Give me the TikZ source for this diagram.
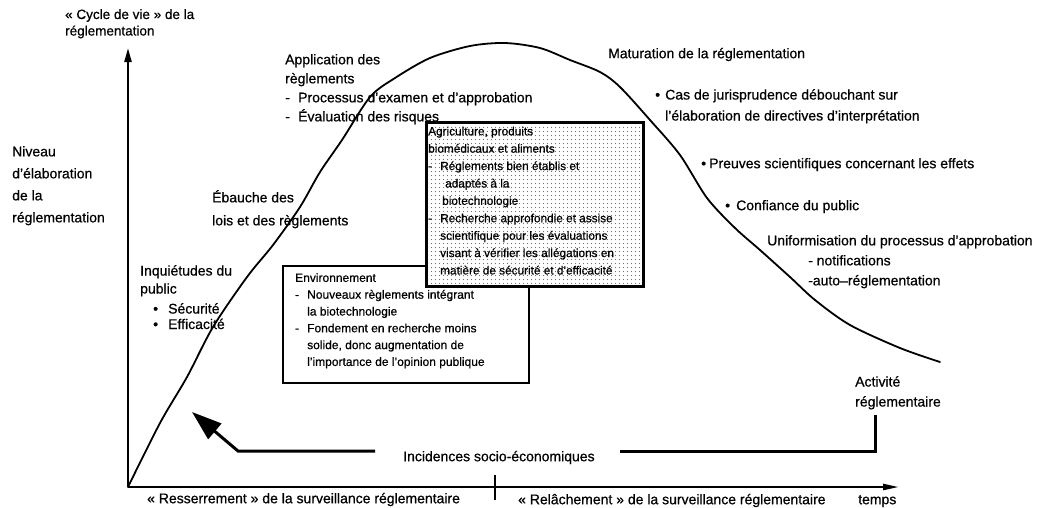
\documentclass[tikz,border=0pt]{standalone}
\usepackage{fontspec}
\setmainfont{Liberation Sans}[BoldFont=Liberation Sans, BoldFeatures={FakeBold=0.6}]
\usetikzlibrary{arrows.meta}
\begin{document}
\begin{tikzpicture}[x=1pt,y=-1pt,
  lbl/.style={inner sep=0pt, anchor=north west, align=left,
    font=\fontsize{14}{#1}\selectfont\bfseries, execute at begin node={\rule{0pt}{13pt}}},
  lbl/.default=19,
  boxtxt/.style={inner sep=0pt, anchor=north west, align=left,
    font=\fontsize{11.8}{17.4}\selectfont\bfseries, execute at begin node={\rule{0pt}{10.5pt}}},
  envtxt/.style={inner sep=0pt, anchor=north west, align=left,
    font=\fontsize{12}{16.8}\selectfont\bfseries, execute at begin node={\rule{0pt}{11pt}}},
  axisline/.style={line width=2.3pt},
  heavy/.style={line width=3pt},
  curveline/.style={line width=1.8pt, line join=round, line cap=round},
  dot/.style={fill=black!55}
]
\useasboundingbox (0,0) rectangle (1041,507);

% axes
\coordinate (O) at (128,487);
\coordinate (ytop) at (128,48);
\coordinate (xend) at (899,487);
\draw[axisline,-{Triangle[length=14pt,width=7pt]}] (O) -- (ytop);
\draw[axisline,-{Triangle[length=16pt,width=6pt]}] (O) -- (xend);
\coordinate (tk1) at (495,475);
\coordinate (tk2) at (495,500);
\draw[line width=1.6pt] (tk1) -- (tk2);

% life-cycle curve
\draw[curveline] plot[smooth, tension=0.5] coordinates {
(128,487) (160,423) (187,377) (213,327) (247,277) (273,245) (300,207)
(320,172) (342,140) (370,97) (395,78) (430,58) (470,46) (505,43) (540,48)
(570,60) (600,72) (620,87) (650,120) (680,155) (707,198) (735,228) (760,250)
(790,277) (815,300) (850,325) (900,348) (940,362)};

% environment box
\node[draw, line width=2pt, fill=white, minimum width=246pt, minimum height=117pt,
  anchor=north west, inner sep=0pt] (envbox) at (282,265) {};
\node[envtxt] (envtext) at (295,273) {Environnement\\
\makebox[12pt][l]{-}Nouveaux règlements intégrant\\
\hspace*{12pt}la biotechnologie\\
\makebox[12pt][l]{-}Fondement en recherche moins\\
\hspace*{12pt}solide, donc augmentation de\\
\hspace*{12pt}l'importance de l'opinion publique};

% agriculture box (dotted)
\node[fill=white, minimum width=217pt, minimum height=164pt,
  anchor=north west, inner sep=0pt] (agribg) at (425,121) {};
\foreach \i in {0,...,53}{
  \foreach \j in {0,...,40}{
    \fill[dot] (427.5+\i*4,123.5+\j*4) circle (0.6pt);
  }
}
\node[draw, line width=2.5pt, minimum width=217pt, minimum height=164pt,
  anchor=north west, inner sep=0pt] (agribox) at (425,121) {};
\node[boxtxt] (agritext) at (428,126.5) {Agriculture, produits\\
biomédicaux et aliments\\
\makebox[12pt][l]{-}Réglements bien établis et\\
\hspace*{17pt}adaptés à la\\
\hspace*{14pt}biotechnologie\\
\makebox[12pt][l]{-}Recherche approfondie et assise\\
\hspace*{12pt}scientifique pour les évaluations\\
\hspace*{12pt}visant à vérifier les allégations en\\
\hspace*{12pt}matière de sécurité et d'efficacité};

% labels
\node[lbl=16.5, font=\fontsize{13.5}{16.5}\selectfont\bfseries] (cycle) at (65,9) {« Cycle de vie » de la\\réglementation};
\node[lbl=22] (niveau) at (12,146) {Niveau\\d'élaboration\\de la\\réglementation};
\node[lbl=19] (appl) at (285,54) {Application des\\règlements\\
\makebox[13pt][l]{-}Processus d'examen et d'approbation\\
\makebox[13pt][l]{-}Évaluation des risques};
\node[lbl=23] (ebauche) at (212,190) {Ébauche des\\lois et des règlements};
\node[lbl] (matur) at (608,45) {Maturation de la réglementation};
\node[lbl=21] (cas) at (655,89) {\makebox[10pt][l]{•}Cas de jurisprudence débouchant sur\\
\hspace*{10pt}l'élaboration de directives d'interprétation};
\node[lbl] (preuves) at (701,155) {\makebox[8pt][l]{•}Preuves scientifiques concernant les effets};
\node[lbl] (confiance) at (725,197) {\makebox[11pt][l]{•}Confiance du public};
\node[lbl=20] (unif) at (767,235) {Uniformisation du processus d'approbation\\
\hspace*{41pt}- notifications\\
\hspace*{41pt}-auto–réglementation};
\node[lbl=18] (inq) at (140,265) {Inquiétudes du\\public};
\node[lbl=15.5] (secu) at (153,303) {\makebox[15pt][l]{•}Sécurité\\\makebox[15pt][l]{•}Efficacité};
\node[lbl=20] (activ) at (855,376) {Activité\\réglementaire};
\node[lbl] (inc) at (403,448) {Incidences socio-économiques};
\node[lbl] (resser) at (147,490) {« Resserrement » de la surveillance réglementaire};
\node[lbl] (relach) at (518,491) {« Relâchement » de la surveillance réglementaire};
\node[lbl] (temps) at (858,491) {temps};

% socio-economic impacts connector
\coordinate (incL) at (375,451);
\coordinate (elbow) at (238,451);
\coordinate (tip) at (192,412);
\coordinate (incR) at (620,451);
\coordinate (corner) at (875,451);
\coordinate (actb) at (875,415);
\draw[heavy, line join=miter, -{Triangle[length=30pt,width=20pt]}] (incL) -- (elbow) -- (tip);
\draw[heavy, line join=miter] (incR) -- (corner) -- (actb);
\end{tikzpicture}
\end{document}
